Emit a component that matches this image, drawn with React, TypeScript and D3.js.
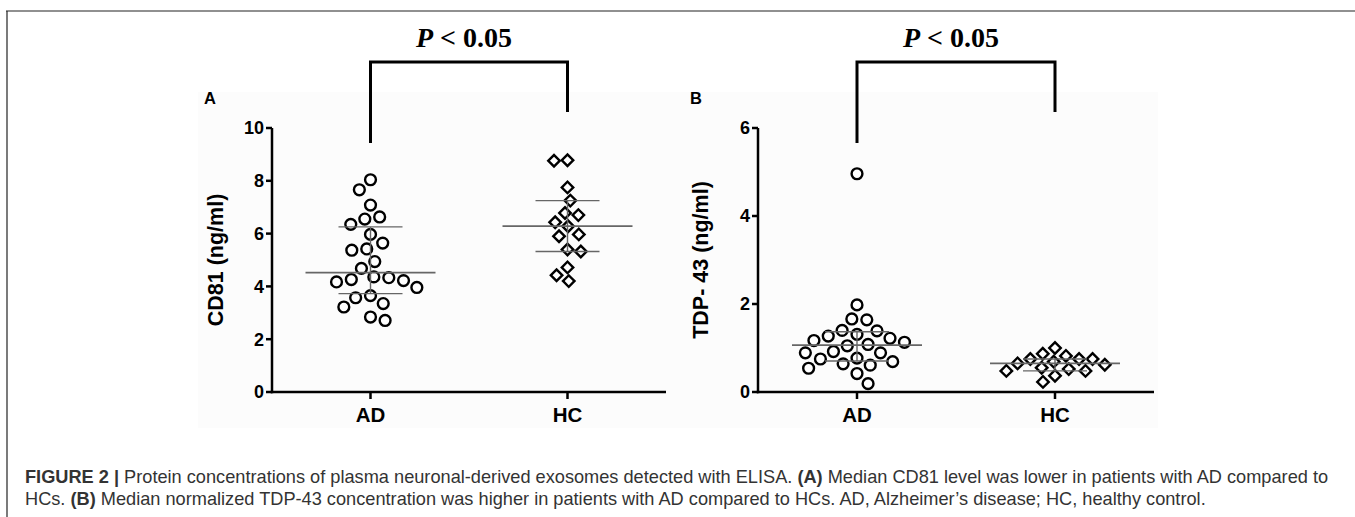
import * as d3 from 'd3'

// values (ng/ml)
const categories = ['AD', 'HC']
const cd81AD = [8.04, 7.66, 7.08, 6.55, 6.63, 6.35, 5.97, 5.64, 5.37, 5.42, 4.94, 4.68, 4.36, 4.33, 4.17, 4.22, 4.26, 3.96, 3.65, 3.57, 3.22, 3.35, 2.71, 2.84]
const cd81HC = [8.78, 8.76, 7.75, 7.25, 6.78, 6.7, 6.43, 6.28, 5.97, 5.9, 5.4, 5.32, 4.72, 4.42, 4.2]
const tdpAD = [4.96, 1.98, 1.66, 1.64, 1.4, 1.39, 1.31, 1.27, 1.22, 1.17, 1.13, 1.08, 1.05, 0.92, 0.89, 0.89, 0.77, 0.75, 0.69, 0.64, 0.61, 0.54, 0.42, 0.19]
const tdpHC = [0.75, 0.75, 0.52, 0.48, 0.23, 0.87, 1.0, 0.82, 0.65, 0.37, 0.62, 0.48, 0.69, 0.55, 0.75]
const cd81Ticks = [0, 2, 4, 6, 8, 10]
const tdpTicks = [0, 2, 4, 6]
const pLabel = '< 0.05'

const FONT = '"Liberation Sans", Arial, Helvetica, sans-serif'
const SERIF = '"Liberation Serif", "Times New Roman", serif'

// GraphPad style quartiles, (n+1)p
function quant(values: number[], p: number) {
  const s = [...values].sort((a, b) => a - b)
  const n = s.length
  const pos = (n + 1) * p
  const lo = Math.floor(pos)
  if (lo < 1) return s[0]
  if (lo >= n) return s[n - 1]
  return s[lo - 1] + (pos - lo) * (s[lo] - s[lo - 1])
}

// greedy beeswarm, biggest values placed first
function swarm(values: number[], y: (v: number) => number, cx: number, D: number) {
  const items = values.map(v => ({ v, y: y(v), x: 0 }))
  const order = [...items].sort((a, b) => b.v - a.v)
  const placed: { v: number; y: number; x: number }[] = []
  let flip = 1
  for (const p of order) {
    const cands = [0]
    for (const q of placed) {
      const dy = Math.abs(q.y - p.y)
      if (dy < D) {
        const dx = Math.sqrt(D * D - dy * dy)
        cands.push(q.x - dx, q.x + dx)
      }
    }
    const ok = cands.filter(c => placed.every(q => (q.x - c) ** 2 + (q.y - p.y) ** 2 >= D * D - 0.01))
    ok.sort((a, b) => Math.abs(a) - Math.abs(b) || (a - b) * flip)
    p.x = ok[0]
    if (p.x !== 0) flip = p.x < 0 ? -1 : 1
    placed.push(p)
  }
  return items.map(p => ({ ...p, x: cx + p.x }))
}

interface PanelProps {
  letter: string
  title: string
  groups: number[][]
  ticks: number[]
  axisX: number
  axisEnd: number
  titleX: number
}

function Panel({ letter, title, groups, ticks, axisX, axisEnd, titleX }: PanelProps) {
  const top = 128
  const bottom = 392
  const x = d3.scalePoint<string>().domain(categories).range([axisX, axisEnd]).padding(0.5)
  const y = d3.scaleLinear().domain([0, d3.max(ticks)!]).range([bottom, top])
  const circle = d3.symbol(d3.symbolCircle, 92)()!
  const diamond = d3.symbol(d3.symbolSquare, 66)()!
  const xa = x(categories[0])!
  const xb = x(categories[1])!
  const mid = (xa + xb) / 2

  return (
    <g>
      <text x={axisX - 62} y={104} fontFamily={FONT} fontWeight="bold" fontSize={16.5} textAnchor="middle">{letter}</text>

      {/* significance bracket */}
      <path d={`M${xa},143V62H${xb}V112`} fill="none" stroke="#000" strokeWidth={3} />
      <text x={mid - 5} y={47} fontFamily={SERIF} fontWeight="bold" fontSize={28} textAnchor="middle">
        <tspan fontStyle="italic">P</tspan> {pLabel}
      </text>

      {/* y axis */}
      <line x1={axisX} x2={axisX} y1={top} y2={bottom + 1.25} stroke="#000" strokeWidth={2.5} />
      {ticks.map(t => (
        <g key={t}>
          <line x1={axisX - 6} x2={axisX} y1={y(t)} y2={y(t)} stroke="#000" strokeWidth={2.5} />
          <text x={axisX - 8} y={y(t)} dy="0.36em" fontFamily={FONT} fontWeight="bold" fontSize={18} textAnchor="end">{t}</text>
        </g>
      ))}
      <text transform={`translate(${titleX},260) rotate(-90)`} fontFamily={FONT} fontWeight="bold" fontSize={21.5} textAnchor="middle">{title}</text>

      {/* x axis */}
      <line x1={axisX - 1.25} x2={axisEnd} y1={bottom} y2={bottom} stroke="#000" strokeWidth={2.5} />
      {categories.map(c => (
        <g key={c}>
          <line x1={x(c)} x2={x(c)} y1={bottom} y2={bottom + 7} stroke="#000" strokeWidth={2.5} />
          <text x={x(c)} y={422} fontFamily={FONT} fontWeight="bold" fontSize={20.5} textAnchor="middle">{c}</text>
        </g>
      ))}

      {groups.map((vals, gi) => {
        const cx = x(categories[gi])!
        const pts = swarm(vals, y, cx, gi === 0 ? 15 : 13.5)
        return (
          <g key={gi}>
            {pts.map((p, i) => (
              <path key={i} d={gi === 0 ? circle : diamond}
                transform={`translate(${p.x},${p.y})${gi === 0 ? '' : ' rotate(45)'}`}
                fill="#fff" stroke="#000" strokeWidth={2.4} />
            ))}
          </g>
        )
      })}

      {/* median and interquartile range */}
      {groups.map((vals, gi) => {
        const cx = x(categories[gi])!
        const med = quant(vals, 0.5)
        const q1 = quant(vals, 0.25)
        const q3 = quant(vals, 0.75)
        return (
          <g key={'m' + gi} stroke="#666">
            <line x1={cx - 65} x2={cx + 65} y1={y(med)} y2={y(med)} strokeWidth={1.7} />
            <line x1={cx - 32} x2={cx + 32} y1={y(q1)} y2={y(q1)} strokeWidth={1.4} />
            <line x1={cx - 32} x2={cx + 32} y1={y(q3)} y2={y(q3)} strokeWidth={1.4} />
            <line x1={cx} x2={cx} y1={y(q1)} y2={y(q3)} strokeWidth={1.4} />
          </g>
        )
      })}
    </g>
  )
}

export default function App() {
  return (
    <svg width={1355} height={517} style={{ position: 'absolute', left: 0, top: 0, background: '#fff' }}>
      <rect x={198} y={92} width={960} height={336} fill="#fcfcfc" />
      <line x1={6} x2={1355} y1={11} y2={11} stroke="#222" strokeWidth={1.2} />
      <line x1={7} x2={7} y1={11} y2={517} stroke="#222" strokeWidth={1.2} />

      <Panel letter="A" title="CD81 (ng/ml)" groups={[cd81AD, cd81HC]} ticks={cd81Ticks} axisX={272} axisEnd={666} titleX={223} />
      <Panel letter="B" title="TDP- 43 (ng/ml)" groups={[tdpAD, tdpHC]} ticks={tdpTicks} axisX={758} axisEnd={1154} titleX={708} />

      <g fontFamily={FONT} fontSize={18.2} fill="#333">
        <text x={25} y={483}>
          <tspan fontWeight="bold">FIGURE 2 |</tspan> Protein concentrations of plasma neuronal-derived exosomes detected with ELISA. <tspan fontWeight="bold">(A)</tspan> Median CD81 level was lower in patients with AD compared to
        </text>
        <text x={25} y={505}>
          HCs. <tspan fontWeight="bold">(B)</tspan> Median normalized TDP-43 concentration was higher in patients with AD compared to HCs. AD, Alzheimer’s disease; HC, healthy control.
        </text>
      </g>
    </svg>
  )
}
